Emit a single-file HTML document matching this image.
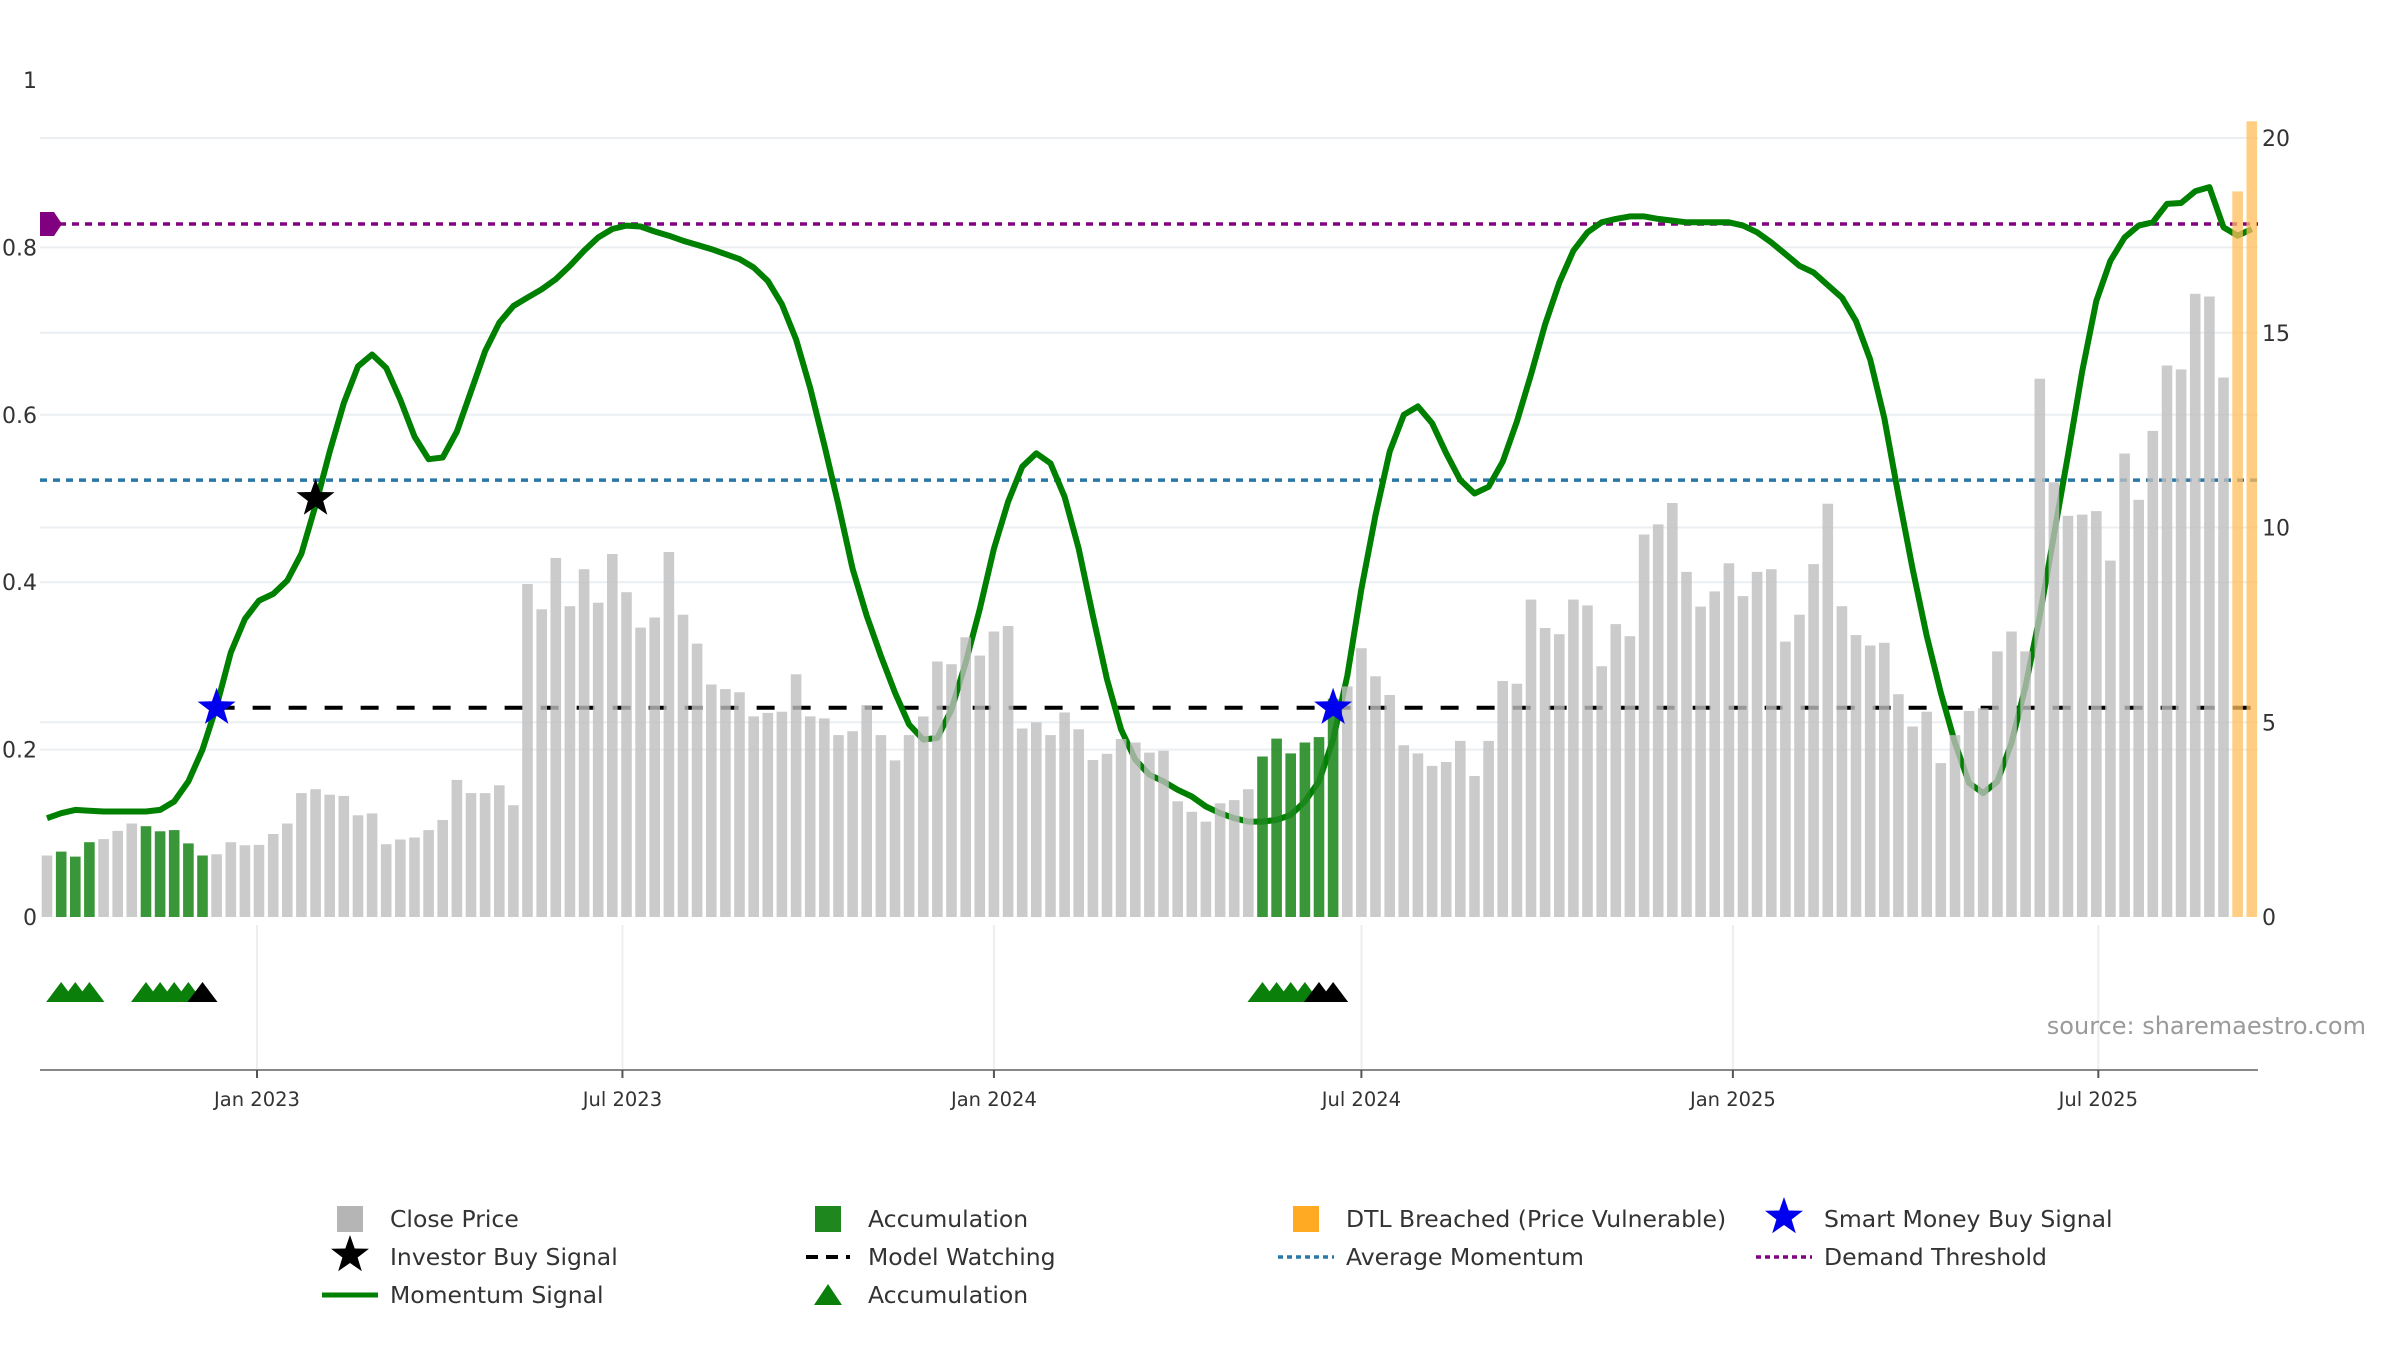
<!DOCTYPE html>
<html><head><meta charset="utf-8">
<style>
html,body{margin:0;padding:0;background:#fff;}
svg{display:block;font-family:"DejaVu Sans","Liberation Sans",sans-serif;}
</style></head>
<body>
<svg id="chart" width="2400" height="1350" viewBox="0 0 2400 1350" xmlns="http://www.w3.org/2000/svg"></svg>
<script>
// ---- data ----
const startDate = "2022-09-19";
const closePrice = [1.58,1.68,1.55,1.92,2.0,2.21,2.4,2.33,2.2,2.23,1.89,1.58,1.61,1.92,1.84,1.85,2.13,2.4,3.18,3.28,3.14,3.11,2.61,2.66,1.87,1.99,2.04,2.23,2.49,3.52,3.18,3.18,3.38,2.87,8.55,7.9,9.22,7.98,8.93,8.07,9.32,8.34,
7.43,7.69,9.37,7.76,7.02,5.97,5.85,5.77,5.15,5.24,5.27,6.23,5.15,5.1,4.67,4.77,5.44,4.67,4.02,4.67,5.15,6.56,6.49,7.18,6.71,7.33,7.47,4.84,5.0,4.67,5.25,4.82,4.03,4.19,4.57,4.48,4.22,4.27,2.97,2.7,2.45,2.92,
3.0,3.28,4.12,4.58,4.2,4.48,4.62,5.6,5.92,6.9,6.18,5.7,4.41,4.2,3.88,3.98,4.52,3.62,4.52,6.06,5.99,8.15,7.42,7.26,8.15,8.0,6.44,7.52,7.21,9.82,10.08,10.63,8.86,7.97,8.36,9.08,8.24,8.86,8.93,7.07,7.76,9.06,
10.61,7.98,7.24,6.97,7.04,5.72,4.89,5.27,3.95,4.67,5.29,5.36,6.82,7.33,6.82,13.82,11.16,10.3,10.33,10.42,9.15,11.9,10.71,12.48,14.16,14.06,16.0,15.93,13.85,18.63,20.43];
const momentum = [0.118,0.124,0.128,0.127,0.126,0.126,0.126,0.126,0.128,0.138,0.162,0.2,0.252,0.316,0.356,0.378,0.386,0.402,0.434,0.492,0.556,0.614,0.658,0.672,0.656,0.618,0.574,0.547,0.549,0.58,0.628,0.676,0.71,0.73,0.74,0.75,0.762,0.778,0.796,0.812,0.822,0.826,
0.825,0.819,0.814,0.808,0.803,0.798,0.792,0.786,0.776,0.76,0.732,0.69,0.632,0.564,0.492,0.416,0.36,0.312,0.268,0.23,0.212,0.214,0.248,0.304,0.368,0.44,0.496,0.538,0.554,0.542,0.502,0.44,0.36,0.284,0.224,0.188,0.17,0.162,0.152,0.144,0.132,0.124,
0.118,0.114,0.114,0.116,0.122,0.138,0.162,0.212,0.288,0.392,0.48,0.556,0.6,0.61,0.59,0.554,0.522,0.506,0.514,0.544,0.592,0.648,0.708,0.758,0.796,0.818,0.83,0.834,0.837,0.837,0.834,0.832,0.83,0.83,0.83,0.83,0.826,0.818,0.806,0.792,0.778,0.77,
0.755,0.74,0.712,0.666,0.596,0.504,0.416,0.336,0.268,0.208,0.16,0.148,0.162,0.208,0.276,0.36,0.456,0.552,0.652,0.736,0.784,0.812,0.826,0.83,0.852,0.853,0.867,0.872,0.824,0.814,0.822];
const accumulationBars = [1,2,3,7,8,9,10,11,86,87,88,89,90,91];
const dtlBars = [155,156];
const accTriangles = [1,2,3,7,8,9,10,86,87,88,89];
const watchTriangles = [11,90,91];
const smartMoney = [{i:12,v:0.25},{i:91,v:0.25}];
const investorBuy = [{i:19,v:0.5}];
const demandThreshold = 0.828;
const avgMomentum = 0.522;
const modelWatching = 0.25;
const modelWatchStart = 12;
const leftTicks = [0,0.2,0.4,0.6,0.8,1];
const leftTickLabels = ["0","0.2","0.4","0.6","0.8","1"];
const rightTicks = [0,5,10,15,20];
const dateTicks = ["2023-01-01","2023-07-01","2024-01-01","2024-07-01","2025-01-01","2025-07-01"];
const dateTickLabels = ["Jan 2023","Jul 2023","Jan 2024","Jul 2024","Jan 2025","Jul 2025"];

// ---- scales ----
const PL=40, PR=2258, Y0=917;
const pxPerDay=2.019, origin=Date.UTC(2023,0,1), originX=257;
function xDate(s){const d=new Date(s+"T00:00:00Z").getTime();return originX+(d-origin)/86400000*pxPerDay;}
const x0 = xDate(startDate);
function xBar(i){return x0+i*7*pxPerDay;}
function yL(v){return Y0-v*837;}
function yR(v){return Y0-v*38.95;}

const svg=document.getElementById('chart');
const NS="http://www.w3.org/2000/svg";
function mk(tag,attrs,parent){const e=document.createElementNS(NS,tag);for(const k in attrs)e.setAttribute(k,attrs[k]);(parent||svg).appendChild(e);return e;}
function starPts(cx,cy,R,r){let p=[];for(let k=0;k<10;k++){const a=-Math.PI/2+k*Math.PI/5;const rr=k%2?r:R;p.push((cx+rr*Math.cos(a)).toFixed(1)+","+(cy+rr*Math.sin(a)).toFixed(1));}return p.join(" ");}

// grid
const grid=mk('g',{});


leftTicks.forEach(t=>{if(t>0&&t<1)mk('line',{x1:PL,x2:PR,y1:yL(t),y2:yL(t),stroke:'#eceff2','stroke-width':2},grid);});
rightTicks.forEach(t=>{if(t>0)mk('line',{x1:PL,x2:PR,y1:yR(t),y2:yR(t),stroke:'#eceff2','stroke-width':2},grid);});
dateTicks.forEach(d=>{mk('line',{x1:xDate(d),x2:xDate(d),y1:Y0+8,y2:1070,stroke:'#eceff2','stroke-width':2},grid);});

// reference lines (under bars)
const dl=mk('line',{x1:46,x2:PR,y1:yL(demandThreshold),y2:yL(demandThreshold),stroke:'#800080','stroke-width':3.5,'stroke-dasharray':'7,6'});


const al=mk('line',{x1:PL,x2:PR,y1:yL(avgMomentum),y2:yL(avgMomentum),stroke:'#2a78a8','stroke-width':3.5,'stroke-dasharray':'7,6'});


const wl=mk('line',{x1:xBar(modelWatchStart),x2:PR,y1:yL(modelWatching),y2:yL(modelWatching),stroke:'#000','stroke-width':4,'stroke-dasharray':'18,18'});



// momentum line
let dpath="";momentum.forEach((v,i)=>{dpath+=(i?"L":"M")+xBar(i).toFixed(1)+","+yL(v).toFixed(1);});
const ml=mk('path',{d:dpath,fill:'none',stroke:'#008000','stroke-width':6,'stroke-linejoin':'round'});



// bars
const bars=mk('g',{});


closePrice.forEach((v,i)=>{
  let fill='rgba(190,190,190,0.8)';
  if(accumulationBars.includes(i))fill='rgba(30,135,30,0.88)';
  if(dtlBars.includes(i))fill='rgba(255,190,90,0.75)';
  const r=mk('rect',{x:(xBar(i)-5.3).toFixed(1),y:yR(v).toFixed(1),width:10.6,height:(Y0-yR(v)).toFixed(1),fill:fill},bars);
  
  
});

const dm=mk('polygon',{points:`${PL},${yL(demandThreshold)-12} ${PL+14},${yL(demandThreshold)-12} ${PL+22},${yL(demandThreshold)} ${PL+14},${yL(demandThreshold)+12} ${PL},${yL(demandThreshold)+12}`,fill:'#800080'});



// stars
smartMoney.forEach(s=>{const e=mk('polygon',{points:starPts(xBar(s.i),yL(s.v),20,8),fill:'#0000ee'});

});
investorBuy.forEach(s=>{const e=mk('polygon',{points:starPts(xBar(s.i),yL(s.v),20,8),fill:'#000'});

});

// triangles
const TY=992;
function tri(i,color,name){const cx=xBar(i);const e=mk('polygon',{points:`${cx-15},${TY+10} ${cx},${TY-10} ${cx+15},${TY+10}`,fill:color});

}
accTriangles.forEach(i=>tri(i,'#0a800a','accumulation-triangle'));
watchTriangles.forEach(i=>tri(i,'#000','watch-triangle'));

// axes
const xa=mk('line',{x1:PL,x2:PR,y1:1070,y2:1070,stroke:'#888','stroke-width':2});


dateTicks.forEach((d,k)=>{
  mk('line',{x1:xDate(d),x2:xDate(d),y1:1070,y2:1078,stroke:'#555','stroke-width':2});
  const t=mk('text',{x:xDate(d),y:1106,'text-anchor':'middle','font-size':19.5,fill:'#333'});
  t.textContent=dateTickLabels[k];
  
  
});
leftTicks.forEach((v,k)=>{const t=mk('text',{x:37,y:yL(v)+8,'text-anchor':'end','font-size':22,fill:'#333'});
t.textContent=leftTickLabels[k];

});
rightTicks.forEach(v=>{const t=mk('text',{x:2262,y:yR(v)+8,'text-anchor':'start','font-size':22,fill:'#333'});
t.textContent=String(v);

});

const src=mk('text',{x:2366,y:1034,'text-anchor':'end','font-size':24,fill:'#9a9a9a'});
src.textContent="source: sharemaestro.com";



// legend
const lg=mk('g',{});


const cols=[350,828,1306,1784], rows=[1219,1257,1295];
function ltext(c,r,s){const t=mk('text',{x:cols[c]+40,y:rows[r]+8,'font-size':23.5,fill:'#333'},lg);t.textContent=s;

}
function lsq(c,r,col){mk('rect',{x:cols[c]-13,y:rows[r]-13,width:26,height:26,fill:col},lg);}
lsq(0,0,'#b5b5b5');ltext(0,0,'Close Price');
lsq(1,0,'#1e871e');ltext(1,0,'Accumulation');
lsq(2,0,'#ffaa22');ltext(2,0,'DTL Breached (Price Vulnerable)');
mk('polygon',{points:starPts(cols[3],rows[0]-2,20,8),fill:'#0000ee'},lg);ltext(3,0,'Smart Money Buy Signal');
mk('polygon',{points:starPts(cols[0],rows[1]-2,20,8),fill:'#000'},lg);ltext(0,1,'Investor Buy Signal');
mk('line',{x1:cols[1]-22,x2:cols[1]+22,y1:rows[1],y2:rows[1],stroke:'#000','stroke-width':4,'stroke-dasharray':'12,8'},lg);ltext(1,1,'Model Watching');
mk('line',{x1:cols[2]-28,x2:cols[2]+28,y1:rows[1],y2:rows[1],stroke:'#2a78a8','stroke-width':3.5,'stroke-dasharray':'5,4'},lg);ltext(2,1,'Average Momentum');
mk('line',{x1:cols[3]-28,x2:cols[3]+28,y1:rows[1],y2:rows[1],stroke:'#800080','stroke-width':3.5,'stroke-dasharray':'5,4'},lg);ltext(3,1,'Demand Threshold');
mk('line',{x1:cols[0]-28,x2:cols[0]+28,y1:rows[2],y2:rows[2],stroke:'#008000','stroke-width':5},lg);ltext(0,2,'Momentum Signal');
mk('polygon',{points:`${cols[1]-14},${rows[2]+10} ${cols[1]},${rows[2]-11} ${cols[1]+14},${rows[2]+10}`,fill:'#0a800a'},lg);ltext(1,2,'Accumulation');
</script>
</body></html>
